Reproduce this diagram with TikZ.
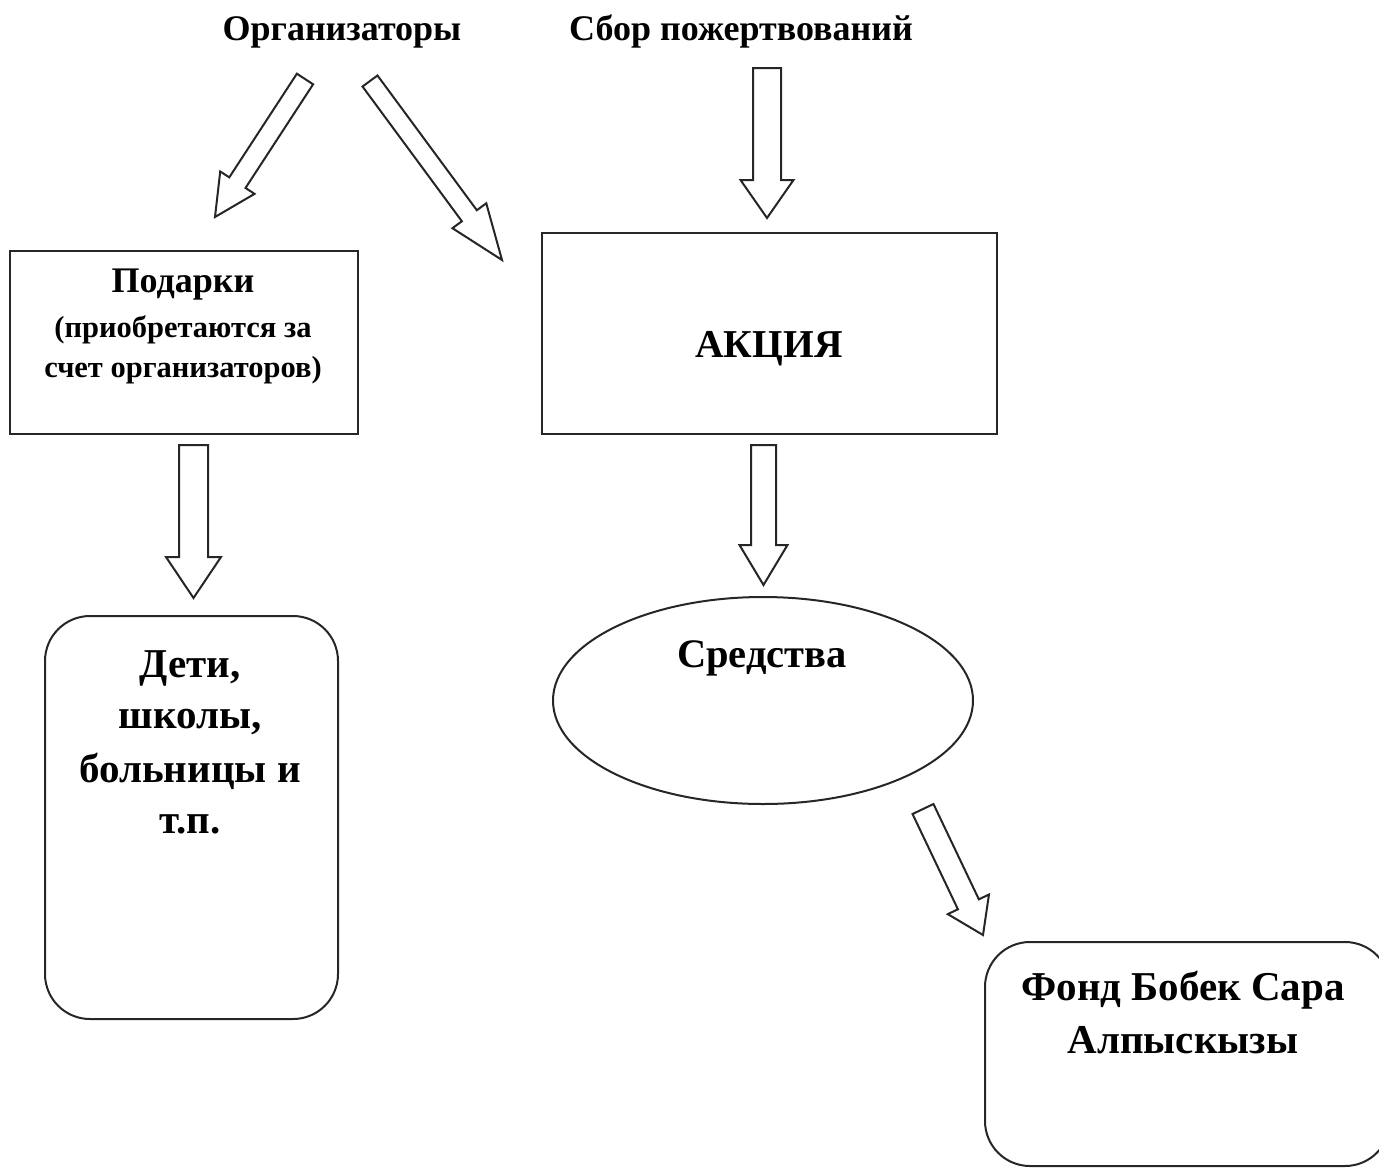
\documentclass[tikz,border=0pt]{standalone}
\usepackage{fontspec}
\setmainfont{Liberation Serif}
\usetikzlibrary{calc,shapes.geometric}
\tikzset{
  blk/.style={draw=black!85, line width=2pt, fill=white, line join=miter},
  boxline/.style={draw=black!85, line width=2pt},
  lbl/.style={anchor=base, inner sep=0pt, font=\bfseries},
}
\newcommand{\blockarrow}[6]{%
  \coordinate (#1-b) at ($(#3)!#6!(#2)$);
  \draw[blk] ($(#2)!#4!90:(#3)$) -- ($(#1-b)!#4!90:(#3)$) -- ($(#1-b)!#5!90:(#3)$) -- (#3)
    -- ($(#1-b)!#5!-90:(#3)$) -- ($(#1-b)!#4!-90:(#3)$) -- ($(#2)!#4!-90:(#3)$) -- cycle;}
\begin{document}
\begin{tikzpicture}[x=1pt,y=-1pt]
\useasboundingbox (0,0) rectangle (1379,1168);
\clip (0,0) rectangle (1379,1168);
% top labels
\node[lbl, font=\bfseries\fontsize{36}{40}\selectfont] (org) at (342,40) {Организаторы};
\node[lbl, font=\bfseries\fontsize{36}{40}\selectfont] (sbor) at (741,40) {Сбор пожертвований};
% boxes
\node[boxline, rectangle, minimum width=348pt, minimum height=183pt, inner sep=0pt] (pod) at (184,342.5) {};
\node[lbl, font=\bfseries\fontsize{36}{40}\selectfont] (podt) at (183,292) {Подарки};
\node[lbl, font=\bfseries\fontsize{30.5}{40}\selectfont] (podt2) at (183,337) {(приобретаются за};
\node[lbl, font=\bfseries\fontsize{30.5}{40}\selectfont] (podt3) at (183,377) {счет организаторов)};
\node[boxline, rectangle, minimum width=455pt, minimum height=201pt, inner sep=0pt] (akc) at (769.5,333.5) {};
\node[lbl, font=\bfseries\fontsize{39.5}{40}\selectfont] (akct) at (769,357) {АКЦИЯ};
\node[boxline, rectangle, rounded corners=45pt, minimum width=293pt, minimum height=403pt, inner sep=0pt] (deti) at (191.5,817.5) {};
\node[lbl, font=\bfseries\fontsize{41}{40}\selectfont] (deti1) at (190,677) {Дети,};
\node[lbl, font=\bfseries\fontsize{41}{40}\selectfont] (deti2) at (190,728) {школы,};
\node[lbl, font=\bfseries\fontsize{41}{40}\selectfont] (deti3) at (190,782) {больницы и};
\node[lbl, font=\bfseries\fontsize{41}{40}\selectfont] (deti4) at (190,833) {т.п.};
\node[boxline, ellipse, minimum width=420pt, minimum height=207pt, inner sep=0pt] (sred) at (763,700.5) {};
\node[lbl, font=\bfseries\fontsize{40.5}{40}\selectfont] (sredt) at (762,667) {Средства};
\node[boxline, rectangle, rounded corners=45pt, minimum width=405pt, minimum height=224pt, inner sep=0pt] (fond) at (1187.5,1054) {};
\node[lbl, font=\bfseries\fontsize{41}{40}\selectfont] (fond1) at (1183,1000) {Фонд Бобек Сара};
\node[lbl, font=\bfseries\fontsize{41}{40}\selectfont] (fond2) at (1183,1053) {Алпыскызы};
% arrow end points
\coordinate (a1s) at (305,79);   \coordinate (a1e) at (215,217);
\coordinate (a2s) at (370,81);   \coordinate (a2e) at (502,260);
\coordinate (a3s) at (767,68);   \coordinate (a3e) at (767,218);
\coordinate (a4s) at (193.5,445); \coordinate (a4e) at (193.5,598);
\coordinate (a5s) at (763.5,445); \coordinate (a5e) at (763.5,585);
\coordinate (a6s) at (923,809);  \coordinate (a6e) at (983,935);
\blockarrow{a1}{a1s}{a1e}{9.7pt}{20.5pt}{41pt}
\blockarrow{a2}{a2s}{a2e}{9.3pt}{21pt}{55pt}
\blockarrow{a3}{a3s}{a3e}{14pt}{26.5pt}{38pt}
\blockarrow{a4}{a4s}{a4e}{14.5pt}{27.5pt}{41pt}
\blockarrow{a5}{a5s}{a5e}{12.5pt}{24pt}{40pt}
\blockarrow{a6}{a6s}{a6e}{11.6pt}{22.8pt}{34pt}
\end{tikzpicture}
\end{document}
